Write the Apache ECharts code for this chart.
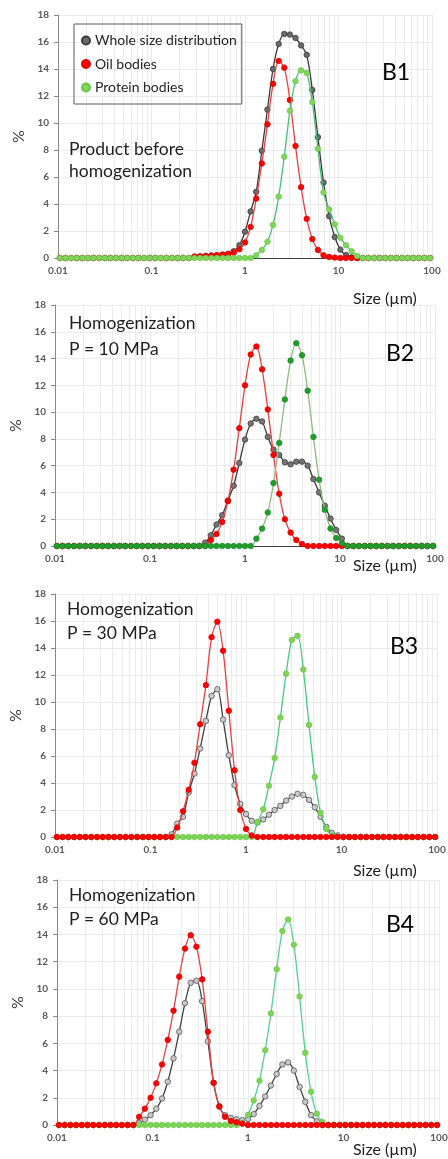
<!DOCTYPE html>
<html>
<head>
<meta charset="utf-8">
<script src="https://cdn.jsdelivr.net/npm/echarts@6/dist/echarts.min.js"></script>
<style>
html,body{margin:0;padding:0;background:#fff;}
#chart{width:448px;height:1159px;}
</style>
</head>
<body>
<div id="chart"></div>
<script>
// Particle size classes (µm), log spacing as in the instrument output
const sizes = [
  0.01047,0.01202,0.0138,0.01585,0.0182,0.02089,0.02399,0.02754,0.03162,0.03631,0.04169,0.04786,0.05495,0.0631,0.07244,0.08318,0.0955,
  0.1096,0.1259,0.1445,0.166,0.1905,0.2188,0.2512,0.2884,0.3311,0.3802,0.4365,0.5012,0.5754,0.6607,0.7586,0.871,
  1,1.148,1.318,1.514,1.738,1.995,2.291,2.63,3.02,3.467,3.981,4.571,5.248,6.026,6.918,7.943,9.12,
  10.47,12.02,13.8,15.85,18.2,20.89,23.99,27.54,31.62,36.31,41.69,47.86,54.95,63.1,72.44,83.18,95.5
];

// B1 — product before homogenization
const b1Whole = [
  0,0,0,0,0,0,0,0,0,0,0,0,0,0,0,0,0,
  0,0,0,0,0,0,0,0.1,0.12,0.15,0.18,0.2,0.25,0.3,0.5,0.95,
  1.95,3.45,4.9,7.95,11.0,14.0,15.85,16.6,16.55,16.3,15.75,15.05,12.45,8.95,5.6,3.1,1.55,
  0.62,0.22,0.05,0,0,0,0,0,0,0,0,0,0,0,0,0,0
];
const b1Oil = [
  0,0,0,0,0,0,0,0,0,0,0,0,0,0,0,0,0,
  0,0,0,0,0,0,0,0.1,0.12,0.15,0.17,0.2,0.25,0.3,0.4,0.65,
  1.15,2.3,4.4,7.0,9.9,12.9,14.6,14.1,11.7,8.3,5.25,2.9,1.4,0.6,0.2,0.08,0.03,
  0,0,0,0,0,0,0,0,0,0,0,0,0,0,0,0,0
];
const b1Protein = [
  0,0,0,0,0,0,0,0,0,0,0,0,0,0,0,0,0,
  0,0,0,0,0,0,0,0,0,0,0,0,0,0,0,0,
  0,0,0.2,0.6,1.2,2.45,4.55,7.5,10.9,13.1,13.9,13.7,11.55,8.1,4.85,3.6,2.5,
  1.5,0.95,0.5,0.15,0,0,0,0,0,0,0,0,0,0,0,0,0
];

// B2 — 10 MPa
const b2Whole = [
  0,0,0,0,0,0,0,0,0,0,0,0,0,0,0,0,0,
  0,0,0,0,0,0,0,0,0,0.25,0.8,1.6,2.3,3.4,4.5,6.2,
  7.95,9.15,9.5,9.3,8.15,7.2,6.8,6.25,6.1,6.3,6.3,6.0,5.0,4.0,3.0,2.05,1.2,
  0.55,0,0,0,0,0,0,0,0,0,0,0,0,0,0,0,0
];
const b2Oil = [
  0,0,0,0,0,0,0,0,0,0,0,0,0,0,0,0,0,
  0,0,0,0,0,0,0,0,0,0,0.45,0.9,1.8,3.35,5.7,8.8,
  12.0,14.3,14.9,13.2,10.2,6.8,3.9,2.0,1.0,0.45,0.15,0,0,0,0,0,0,
  0,0,0,0,0,0,0,0,0,0,0,0,0,0,0,0,0
];
const b2Protein = [
  0,0,0,0,0,0,0,0,0,0,0,0,0,0,0,0,0,
  0,0,0,0,0,0,0,0,0,0,0,0,0,0,0,0,
  0,0,0.55,1.3,2.5,4.7,7.7,10.95,13.85,15.15,14.25,11.6,8.15,4.95,2.7,1.3,0.6,
  0.2,0,0,0,0,0,0,0,0,0,0,0,0,0,0,0,0
];

// B3 — 30 MPa
const b3Whole = [
  0,0,0,0,0,0,0,0,0,0,0,0,0,0,0,0,0,
  0,0,0,0.2,1.0,1.5,3.3,4.7,6.55,8.6,10.45,10.95,8.7,6.05,3.85,2.45,
  1.7,1.2,1.08,1.3,1.65,2.0,2.3,2.7,3.0,3.2,3.12,2.75,2.2,1.5,0.75,0.3,0.12,
  0,0,0,0,0,0,0,0,0,0,0,0,0,0,0,0,0
];
const b3Oil = [
  0,0,0,0,0,0,0,0,0,0,0,0,0,0,0,0,0,
  0,0,0,0,0.7,1.9,3.5,5.5,8.35,11.25,14.8,15.95,13.8,9.35,4.95,2.0,
  0.6,0.12,0,0,0,0,0,0,0,0,0,0,0,0,0,0,0,
  0,0,0,0,0,0,0,0,0,0,0,0,0,0,0,0,0
];
const b3Protein = [
  0,0,0,0,0,0,0,0,0,0,0,0,0,0,0,0,0,
  0,0,0,0,0,0,0,0,0,0,0,0,0,0,0,0,
  0,0,1.1,2.05,3.8,5.85,8.85,12.1,14.6,14.9,12.4,8.3,4.45,1.8,0.6,0.12,0,
  0,0,0,0,0,0,0,0,0,0,0,0,0,0,0,0,0
];

// B4 — 60 MPa
const b4Whole = [
  0,0,0,0,0,0,0,0,0,0,0,0,0,0,0.15,0.4,0.72,
  1.2,1.95,3.18,4.9,6.85,8.95,10.45,10.6,9.1,6.15,3.1,1.35,0.72,0.52,0.42,0.36,
  0.45,0.8,1.4,2.1,2.9,3.75,4.45,4.6,4.0,2.8,1.7,0.73,0.27,0,0,0,0,
  0,0,0,0,0,0,0,0,0,0,0,0,0,0,0,0,0
];
const b4Oil = [
  0,0,0,0,0,0,0,0,0,0,0,0,0,0,0.6,1.2,2.0,
  3.06,4.45,6.25,8.4,10.9,12.96,13.95,13.1,10.7,6.85,3.1,1.37,0.6,0.3,0.2,0.1,
  0,0,0,0,0,0,0,0,0,0,0,0,0,0,0,0,0,
  0,0,0,0,0,0,0,0,0,0,0,0,0,0,0,0,0
];
const b4Protein = [
  0,0,0,0,0,0,0,0,0,0,0,0,0,0,0,0,0,
  0,0,0,0,0,0,0,0,0,0,0,0,0,0,0,0.12,
  0.75,1.8,3.25,5.5,8.2,11.45,14.25,15.1,13.25,9.45,5.3,2.45,0.82,0.22,0,0,0,
  0,0,0,0,0,0,0,0,0,0,0,0,0,0,0,0,0
];

const seriesNames = ['Whole size distribution', 'Oil bodies', 'Protein bodies'];
const xTickLabels = ['0.01', '0.1', '1', '10', '100'];
const yTicks = [0, 2, 4, 6, 8, 10, 12, 14, 16, 18];
const minorGrid = [0.02,0.03,0.04,0.05,0.06,0.07,0.08,0.09,0.2,0.3,0.4,0.5,0.6,0.7,0.8,0.9,2,3,4,5,6,7,8,9,20,30,40,50,60,70,80,90];
const panelTags = ['B1', 'B2', 'B3', 'B4'];
const panelNotes = [
  ['Product before', 'homogenization'],
  ['Homogenization', 'P = 10 MPa'],
  ['Homogenization', 'P = 30 MPa'],
  ['Homogenization', 'P = 60 MPa']
];
const xAxisTitle = 'Size (µm)';
const yAxisTitle = '%';

const panelData = [
  [b1Whole, b1Oil, b1Protein],
  [b2Whole, b2Oil, b2Protein],
  [b3Whole, b3Oil, b3Protein],
  [b4Whole, b4Oil, b4Protein]
];

// ---------- layout & style ----------
const FONT = 'Lato, "Open Sans", "Liberation Sans", sans-serif';
const GRIDCOL = '#ebebeb';
const grids = [
  {left: 58, top: 15, width: 374, height: 243},
  {left: 55, top: 305, width: 380, height: 241},
  {left: 55, top: 594, width: 382, height: 243},
  {left: 57, top: 880, width: 382, height: 245}
];
const styles = [
  { // B1
    whole: {fill: '#6a6a6a', border: '#3c3c3c', line: '#3a3a3a'},
    oil: {fill: '#ff0000', border: '#e00000', line: '#e8403f'},
    protein: {fill: '#80d65c', border: '#6cc64a', line: '#46c173'},
    order: ['whole', 'oil', 'protein']
  },
  { // B2
    whole: {fill: '#747474', border: '#404040', line: '#3a3a3a'},
    oil: {fill: '#ff0000', border: '#e00000', line: '#e8403f'},
    protein: {fill: '#1f9e2c', border: '#1a8a26', line: '#8fb882'},
    order: ['whole', 'oil', 'protein']
  },
  { // B3
    whole: {fill: '#cacaca', border: '#575757', line: '#404040'},
    oil: {fill: '#ff0000', border: '#e00000', line: '#e8403f'},
    protein: {fill: '#7ed455', border: '#6cc64a', line: '#48c97e'},
    order: ['whole', 'protein', 'oil']
  },
  { // B4
    whole: {fill: '#c8c8c8', border: '#575757', line: '#404040'},
    oil: {fill: '#ff0000', border: '#e00000', line: '#e8403f'},
    protein: {fill: '#7ed455', border: '#6cc64a', line: '#55d08c'},
    order: ['whole', 'protein', 'oil']
  }
];
const keyIndex = {whole: 0, oil: 1, protein: 2};

const xAxes = [], yAxes = [], series = [], graphics = [];
grids.forEach((g, i) => {
  xAxes.push({
    type: 'log', logBase: 10, gridIndex: i, min: 0.01, max: 100,
    axisLine: {show: true, onZero: false, lineStyle: {color: '#3c3c3c', width: 1}},
    axisTick: {show: false},
    axisLabel: {
      fontSize: 10, fontWeight: 'bold', color: '#595959', fontFamily: FONT, margin: 8,
      formatter: v => xTickLabels[Math.round(Math.log10(v)) + 2]
    },
    splitLine: {show: true, lineStyle: {color: GRIDCOL, width: 1}}
  });
  yAxes.push({
    type: 'value', gridIndex: i, min: yTicks[0], max: yTicks[yTicks.length - 1], interval: 2,
    axisLine: {show: true, lineStyle: {color: '#8a8a8a', width: 1}},
    axisTick: {show: true, length: 4, lineStyle: {color: '#8a8a8a'}},
    axisLabel: {fontSize: 10, fontWeight: 'bold', color: '#595959', fontFamily: FONT, margin: 9},
    splitLine: {show: true, lineStyle: {color: GRIDCOL, width: 1}},
    name: yAxisTitle, nameLocation: 'middle', nameRotate: 90, nameGap: 27,
    nameTextStyle: {fontSize: 16, color: '#404040', fontFamily: FONT}
  });
  const st = styles[i];
  st.order.forEach((key, k) => {
    const vals = panelData[i][keyIndex[key]];
    const s = st[key];
    const ser = {
      type: 'line', name: seriesNames[keyIndex[key]],
      xAxisIndex: i, yAxisIndex: i,
      data: sizes.map((x, j) => [x, vals[j]]),
      smooth: 0.3,
      symbol: 'circle', symbolSize: 5.5, showSymbol: true, showAllSymbol: true,
      lineStyle: {color: s.line, width: 1.3},
      itemStyle: {color: s.fill, borderColor: s.border, borderWidth: 0.8},
      emphasis: {disabled: true},
      animation: false,
      z: 2 + k
    };
    if (k === 0) {
      ser.markLine = {
        silent: true, symbol: ['none', 'none'], animation: false, z: 1,
        label: {show: false},
        lineStyle: {color: GRIDCOL, width: 1, type: 'solid'},
        data: minorGrid.map(v => ({xAxis: v}))
      };
    }
    series.push(ser);
  });
});

const noteY = [[149, 171], [323, 349], [609, 633], [895, 919]];
const noteX = [69, 69, 67, 69];
const tagPos = [[382, 73], [386, 354], [390, 647], [386, 925]];
const sizeY = [299, 566, 871, 1150];

function txt(x, y, text, size, color, weight) {
  return {
    type: 'text', x: x, y: y, silent: true, z: 100,
    style: {
      text: text, fontSize: size, fontFamily: FONT, fill: color, fontWeight: weight || 'normal',
      align: 'left', verticalAlign: 'middle', textAlign: 'left', textVerticalAlign: 'middle'
    }
  };
}
for (let i = 0; i < 4; i++) {
  graphics.push(txt(noteX[i], noteY[i][0], panelNotes[i][0], 17.5, '#1f1f1f'));
  graphics.push(txt(noteX[i], noteY[i][1], panelNotes[i][1], 17.5, '#1f1f1f'));
  graphics.push(txt(tagPos[i][0], tagPos[i][1], panelTags[i], 23, '#000000'));
  graphics.push(txt(353, sizeY[i], xAxisTitle, 16, '#1f1f1f'));
}

const chart = echarts.init(document.getElementById('chart'), null, {renderer: 'canvas'});
chart.setOption({
  animation: false,
  backgroundColor: '#ffffff',
  textStyle: {fontFamily: FONT},
  grid: grids.map(g => Object.assign({containLabel: false, outerBoundsMode: 'none'}, g)),
  xAxis: xAxes,
  yAxis: yAxes,
  legend: {
    orient: 'vertical', left: 74, top: 24, z: 100,
    data: seriesNames, icon: 'circle', itemWidth: 8, itemHeight: 8, itemGap: 8.5,
    padding: [9, 5, 9, 7], borderColor: '#595959', borderWidth: 1,
    backgroundColor: 'rgba(255,255,255,0)',
    selectedMode: false,
    textStyle: {fontSize: 14, color: '#262626', fontFamily: FONT, lineHeight: 15}
  },
  series: series,
  graphic: graphics
});
</script>
</body>
</html>
